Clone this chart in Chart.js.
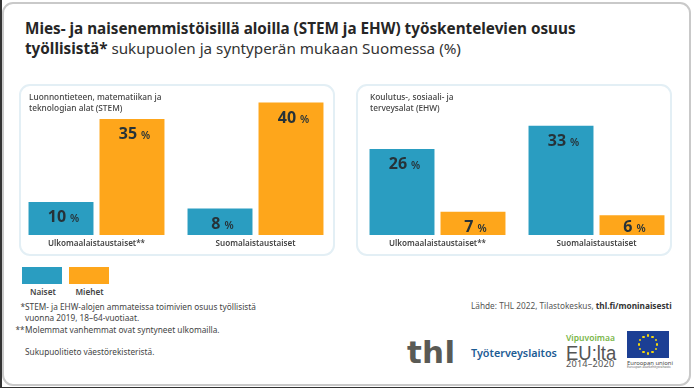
<!DOCTYPE html>
<html lang="fi"><head><meta charset="utf-8">
<script src="https://cdn.jsdelivr.net/npm/chart.js@4"></script>
<style>
html,body{margin:0;padding:0;background:#fff;width:694px;height:388px;overflow:hidden}
*{box-sizing:border-box}
body{font-family:"Noto Sans",sans-serif;color:#2b2b2b;position:relative}
.a{position:absolute;white-space:nowrap}
#frame{left:2px;top:2px;width:689px;height:384px;border:2px solid #c9c9c9;border-radius:11px}
#edgeL{left:0;top:0;width:1.5px;height:388px;background:#333}
#edgeB{left:0;top:386.5px;width:694px;height:1.5px;background:#333}
.panel{border:2px solid #e3eff5;border-radius:11px;background:#fff}
canvas{position:absolute}
.sq{position:absolute;width:40px;height:17px}
</style></head><body>
<div class="a" id="frame"></div><div class="a" id="edgeL"></div><div class="a" id="edgeB"></div>

<div class="a" style="left:25px;top:18px;font-size:15.26px;line-height:20px;font-weight:700;color:#262626">Mies- ja naisenemmistöisillä aloilla (STEM ja EHW) työskentelevien osuus<br>työllisistä* <span style="font-weight:400;color:#333">sukupuolen ja syntyperän mukaan Suomessa (%)</span></div>

<div class="a panel" style="left:19px;top:84px;width:316px;height:172px"></div>
<div class="a panel" style="left:356px;top:84px;width:316px;height:172px"></div>
<canvas id="c1" width="318" height="172" style="left:17px;top:84px"></canvas>
<canvas id="c2" width="318" height="172" style="left:358px;top:84px"></canvas>
<div class="a" style="left:29px;top:90.5px;font-size:8.3px;line-height:11px;font-weight:500;color:#444">Luonnontieteen, matematiikan ja<br>teknologian alat (STEM)</div>
<div class="a" style="left:370px;top:90.5px;font-size:8.3px;line-height:11px;font-weight:500;color:#444">Koulutus-, sosiaali- ja<br>terveysalat (EHW)</div>

<div class="sq" style="left:22px;top:267px;background:#2a9dc1"></div>
<div class="sq" style="left:68.5px;top:267px;background:#fea61b"></div>
<div class="a" style="left:30px;top:286px;font-size:8.2px;font-weight:600;line-height:12px;color:#444">Naiset</div>
<div class="a" style="left:75.5px;top:286px;font-size:8.2px;font-weight:600;line-height:12px;color:#444">Miehet</div>

<div class="a" style="left:20.5px;top:301px;font-size:8.2px;line-height:11.3px;color:#444">*</div>
<div class="a" style="left:25px;top:301px;font-size:8.27px;line-height:11.3px;color:#444">STEM- ja EHW-alojen ammateissa toimivien osuus työllisistä<br>vuonna 2019, 18–64-vuotiaat.</div>
<div class="a" style="left:15.5px;top:323.5px;font-size:8.2px;line-height:11.3px;color:#444">**</div>
<div class="a" style="left:25px;top:323.5px;font-size:8.27px;line-height:11.3px;color:#444">Molemmat vanhemmat ovat syntyneet ulkomailla.</div>
<div class="a" style="left:25px;top:346px;font-size:8.27px;line-height:11.3px;color:#444">Sukupuolitieto väestörekisteristä.</div>

<div class="a" style="left:471px;top:300px;font-size:8.25px;line-height:12px;color:#555">Lähde: THL 2022, Tilastokeskus, <b style="color:#333">thl.fi/moninaisesti</b></div>

<div class="a" style="left:407px;top:337px;font-family:'DejaVu Sans';font-size:31px;line-height:30px;font-weight:700;letter-spacing:.3px;color:#5a5a55">thl</div>
<div class="a" style="left:471px;top:346px;font-size:10.8px;line-height:14px;font-weight:600;color:#1d5c94">Työterveyslaitos</div>
<div class="a" style="left:566px;top:332.5px;font-size:8.5px;line-height:9px;font-weight:600;color:#7ab648">Vipuvoimaa</div>
<div class="a" style="left:566px;top:341px;font-family:'Liberation Sans';font-size:20.5px;line-height:24px;font-weight:400;color:#555;transform:scaleX(.9);transform-origin:left">EU:lta</div>
<div class="a" style="left:566px;top:358.5px;font-size:9.2px;line-height:9px;letter-spacing:.2px;color:#555">2014–2020</div>
<div class="a" id="flag" style="left:627px;top:331px;width:42px;height:27px;background:#1c3f94"></div>
<div class="a" style="left:627px;top:360px;font-size:5.9px;line-height:7px;color:#444">Euroopan unioni</div>
<div class="a" style="left:627px;top:365px;font-size:3.2px;line-height:5px;color:#666">Euroopan aluekehitysrahasto</div>

<script>
const categories = ["Ulkomaalaistaustaiset**", "Suomalaistaustaiset"];
const seriesNames = ["Naiset", "Miehet"];
const stemNaiset = [10, 8];
const stemMiehet = [35, 40];
const ehwNaiset = [26, 33];
const ehwMiehet = [7, 6];
const colorNaiset = "#2a9dc1";
const colorMiehet = "#fea61b";

const valueLabels = {
  id: "valueLabels",
  afterDatasetsDraw(chart) {
    const ctx = chart.ctx;
    const numFont = "700 16px 'Noto Sans'";
    const pctFont = "600 10.5px 'Noto Sans'";
    chart.data.datasets.forEach((ds, i) => {
      chart.getDatasetMeta(i).data.forEach((bar, j) => {
        const num = String(ds.data[j]);
        ctx.save();
        ctx.textBaseline = "alphabetic";
        ctx.textAlign = "left";
        ctx.fillStyle = "#263238";
        ctx.font = numFont;
        const w1 = ctx.measureText(num).width;
        ctx.font = pctFont;
        const w2 = ctx.measureText("%").width;
        const x0 = bar.x + 2.5 - (w1 + 4 + w2) / 2;
        const y = Math.min(bar.y + 20, bar.base - 3.5);
        ctx.font = numFont;
        ctx.fillText(num, x0, y);
        ctx.font = pctFont;
        ctx.fillText("%", x0 + w1 + 4, y);
        ctx.restore();
      });
    });
  }
};

function build(id, a, b) {
  new Chart(document.getElementById(id), {
    type: "bar",
    data: {
      labels: categories,
      datasets: [
        { label: seriesNames[0], data: a, backgroundColor: colorNaiset },
        { label: seriesNames[1], data: b, backgroundColor: colorMiehet }
      ]
    },
    options: {
      responsive: false, animation: false,
      layout: { padding: 0 },
      datasets: { bar: { categoryPercentage: 0.893, barPercentage: 0.915 } },
      plugins: { legend: { display: false }, tooltip: { enabled: false } },
      scales: {
        x: {
          border: { display: false }, grid: { display: false, drawTicks: false },
          afterFit(scale) { scale.height = 21; },
          ticks: { color: "#444", padding: 4, maxRotation: 0, font: { family: "Noto Sans", size: 8.1, weight: 600 } }
        },
        y: { display: false, min: 0, max: 45.6, grid: { display: false } }
      }
    },
    plugins: [valueLabels]
  });
}
build("c1", stemNaiset, stemMiehet);
build("c2", ehwNaiset, ehwMiehet);

// EU flag stars
const flag = document.getElementById("flag");
const starAngles = [0,30,60,90,120,150,180,210,240,270,300,330];
starAngles.forEach(d => {
  const s = document.createElement("div");
  s.style.cssText = "position:absolute;width:2.4px;height:2.4px;border-radius:50%;background:#f5d90a";
  s.style.left = (21 + 9 * Math.cos(d * Math.PI / 180) - 1.2) + "px";
  s.style.top = (13.5 + 9 * Math.sin(d * Math.PI / 180) - 1.2) + "px";
  flag.appendChild(s);
});
</script>
</body></html>
